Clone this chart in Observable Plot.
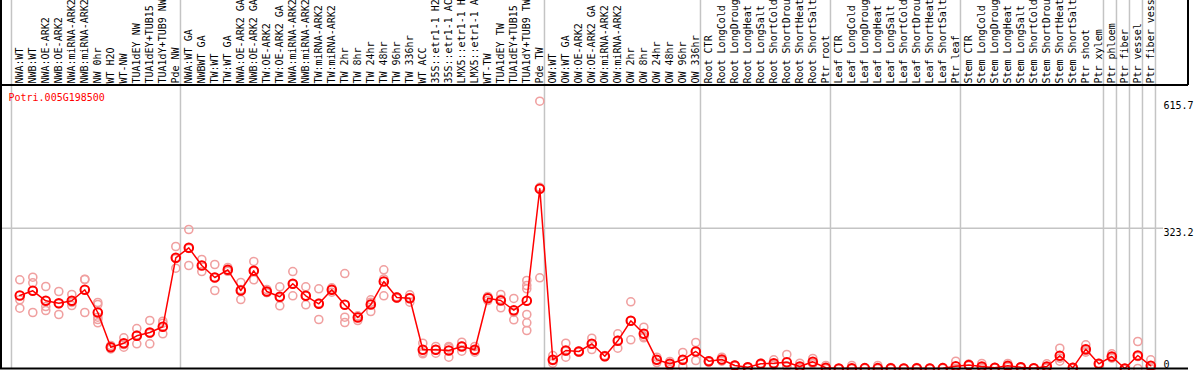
<!DOCTYPE html>
<html><head><meta charset="utf-8">
<script src="https://cdn.jsdelivr.net/npm/d3@7"></script>
<script src="https://cdn.jsdelivr.net/npm/@observablehq/plot@0.6"></script>
<style>body{margin:0;background:#fff;}</style>
</head><body><div id="chart"></div>
<script>
const title = "Potri.005G198500";
const categories = [
 "NWA:WT","NWB:WT","NWA:OE-ARK2","NWB:OE-ARK2","NWA:miRNA-ARK2","NWB:miRNA-ARK2","NW 0hr","WT H2O","WT-NW","TUA1dEY NW","TUA1dEY+TUB15","TUA1dY+TUB9 NW","Pde NW",
 "NWA:WT GA","NWBWT GA","TW:WT","TW:WT GA","NWA:OE-ARK2 GA","NWB:OE-ARK2 GA","TW:OE-ARK2","TW:OE-ARK2 GA","NWA:miRNA-ARK2","NWB:miRNA-ARK2","TW:miRNA-ARK2","TW:miRNA-ARK2","TW 2hr","TW 8hr","TW 24hr","TW 48hr","TW 96hr","TW 336hr","WT ACC","35S::etr1-1 H2","35S::etr1-1 AC","LMX5::etr1-1 H","LMX5::etr1-1 A","WT-TW","TUA1dEY TW","TUA1dEY+TUB15","TUA1dY+TUB9 TW","Pde TW",
 "OW:WT","OW:WT GA","OW:OE-ARK2","OW:OE-ARK2 GA","OW:miRNA-ARK2","OW:miRNA-ARK2","OW 2hr","OW 8hr","OW 24hr","OW 48hr","OW 96hr","OW 336hr",
 "Root CTR","Root LongCold","Root LongDroug","Root LongHeat","Root LongSalt","Root ShortCold","Root ShortDrou","Root ShortHeat","Root ShortSalt","Ptr root",
 "Leaf CTR","Leaf LongCold","Leaf LongDroug","Leaf LongHeat","Leaf LongSalt","Leaf ShortCold","Leaf ShortDrou","Leaf ShortHeat","Leaf ShortSalt","Ptr leaf",
 "Stem CTR","Stem LongCold","Stem LongDroug","Stem LongHeat","Stem LongSalt","Stem ShortCold","Stem ShortDrou","Stem ShortHeat","Stem ShortSalt","Ptr shoot","Ptr xylem",
 "Ptr phloem","Ptr fiber","Ptr vessel","Ptr fiber vess"
];
const means = [
 168.2,179.0,156.0,150.4,156.0,181.3,129.0,49.1,58.3,75.3,82.9,96.1,255.0,
 278.0,237.3,209.6,227.4,179.7,225.1,177.4,165.2,195.1,167.5,149.0,181.3,146.7,117.5,147.4,200.4,163.6,161.9,43.1,43.1,41.5,50.7,43.1,161.9,156.6,134.3,156.0,414.0,
 20.0,41.5,39.2,56.9,28.3,63.8,109.9,79.9,20.0,10.8,20.0,39.2,
 16.8,20.7,6.9,3.0,10.8,12.2,14.5,4.6,15.4,1.6,
 0,0.5,0.8,0.8,0.5,0,0.5,0,0.8,5.3,
 8.0,4.6,1.6,6.2,3.0,0.7,4.6,29.3,1.6,44.5,10.8,
 27.6,0,29.9,6.2
];
const replicates = [
 [204.3,158.3,138.9],[210.3,197.4,129.0],[188.9,142.8,133.6],[177.4,149.4,124.4],[170.5,152.4,145.1],[205.7,205.0,129.0],[152.0,147.4,118.2,112.9,105.3],[53.0,45.0,49.0],[70.7,55.3,49.0],[92.1,77.0,56.9],[110.6,81.0,56.9],[109.0,104.4,79.9],[281.0,253.0,231.1],
 [320.2,276.5,237.3],[251.1,237.4,223.4],[239.6,209.5,179.7],[232.7,225.0,224.0],[198.1,182.0,158.9],[246.6,224.4,204.3],[182,175,175],[188.2,163.0,144.4],[223.4,194.4,167.5],[188.2,167.6,146.7],[183.6,150.5,112.9],[185.9,182.0,175.8],[218.8,118.2,106.0],[121,121,110.6],[158.3,152.6,131.3],[227.4,206.3,167.5],[165,164,162],[169.8,163.2,152.7],[58.3,37.0,33.9],[50.7,43.4,35.2],[50.7,47.8,26.0],[60.6,51.6,39.9],[50.7,41.1,37.5],[165.9,163.0,156.6],[170.5,159.5,139.8],[161.3,129.4,112.2],[202.7,191.2,183.6,124.4,105.3,87.5],[615.7,417.4,208.9],
 [29.9,18.0,12.2],[58.3,40.0,26.0],[40,39,38],[69.8,57.0,43.8],[30,28,27],[79.9,64.7,46.8],[153.6,110.0,66.1],[95.1,74.0,70.7],[26.0,20.0,13.8],[16.1,10.8,5.5],[36.9,18.5,4.6],[59.9,39.3,18.4],
 [18,17,15],[26.0,19,17],[8,7,6],[4,3,2],[12,10,10],[20.0,9,8],[32.3,6,5],[12.2,1,0.6],[23,12,11],[6.9,0,0],
 [0,0,0],[6.9,0,0],[1,1,0],[6.9,0,0],[2,0,0],[1,0,0],[2,0,0],[1,0,0],[2,1,0],[16.8,0,0],
 [10,7,7],[11.5,2,0],[2,2,1],[11.5,4,3],[4,3,2],[1,1,0],[10.8,2,1],[46.8,24,16.8],[2,2,1],[54.6,41,37.5],[12,10,10],
 [33.9,25,24],[0,0,0],[62.2,27.5,0],[20.0,0,0]
];
const groupStarts = [0,13,41,53,63,73,84,85,86,87,88];
const yTicks = [0, 323.2, 615.7];

const meanData = means.map((v, i) => ({i, v}));
const repData = replicates.flatMap((arr, i) => arr.map(v => ({i, v})));

const W = 1194, H = 370;
const plot = Plot.plot({
  width: W, height: H,
  marginTop: 0, marginBottom: 2, marginLeft: 1, marginRight: 31,
  x: {type: "linear", domain: [0, 87], range: [19.3, 1150.3], axis: null},
  y: {type: "linear", domain: [0, 323.2], range: [368, 227.7], axis: null},
  style: {fontFamily: "'DejaVu Sans Mono', monospace", fontSize: "10px", background: "white"},
  marks: [
    Plot.ruleX(groupStarts, {x: d => d - 0.64, stroke: "#c4c4c4", strokeWidth: 1.5}),
    Plot.ruleY(yTicks.filter(t => t > 0 && t < d3.max(yTicks)), {stroke: "#c4c4c4", strokeWidth: 1.5}),
    Plot.dot(repData, {x: "i", y: "v", r: 4, stroke: "#f0a0a0", strokeWidth: 1.6}),
    Plot.line(meanData, {x: "i", y: "v", stroke: "#ff0000", strokeWidth: 1.5}),
    Plot.dot(meanData, {x: "i", y: "v", r: 4.3, stroke: "#ff0000", strokeWidth: 2}),
    Plot.text(categories, {x: (d, i) => i, text: d => d, frameAnchor: "top", rotate: -90, textAnchor: "start", lineAnchor: "middle", dy: 83, fill: "black"}),
    Plot.text([title], {frameAnchor: "top-left", dx: 7, dy: 97, textAnchor: "start", lineAnchor: "middle", fill: "#ff0000"}),
    Plot.text(yTicks.filter(t => t > 0), {y: d => d, text: d => String(d), frameAnchor: "right", textAnchor: "start", lineAnchor: "top", dy: 1, fill: "black"}),
    Plot.text(yTicks.filter(t => t === 0), {y: d => d, text: d => String(d), frameAnchor: "right", textAnchor: "start", lineAnchor: "bottom", dy: -1, fill: "black"})
  ]
});
document.getElementById("chart").appendChild(plot);

// frame decoration lines
const svg = d3.select(plot);
const deco = svg.append("g").attr("stroke", "black").attr("stroke-width", 2);
deco.append("line").attr("x1", 1).attr("x2", 1).attr("y1", 0).attr("y2", 369);
deco.append("line").attr("x1", 0).attr("x2", 1188).attr("y1", 368.5).attr("y2", 368.5);
deco.append("line").attr("x1", 0).attr("x2", 1188).attr("y1", 85).attr("y2", 85);
deco.append("line").attr("x1", 1188).attr("x2", 1188).attr("y1", 0).attr("y2", 85);
</script>
</body></html>
